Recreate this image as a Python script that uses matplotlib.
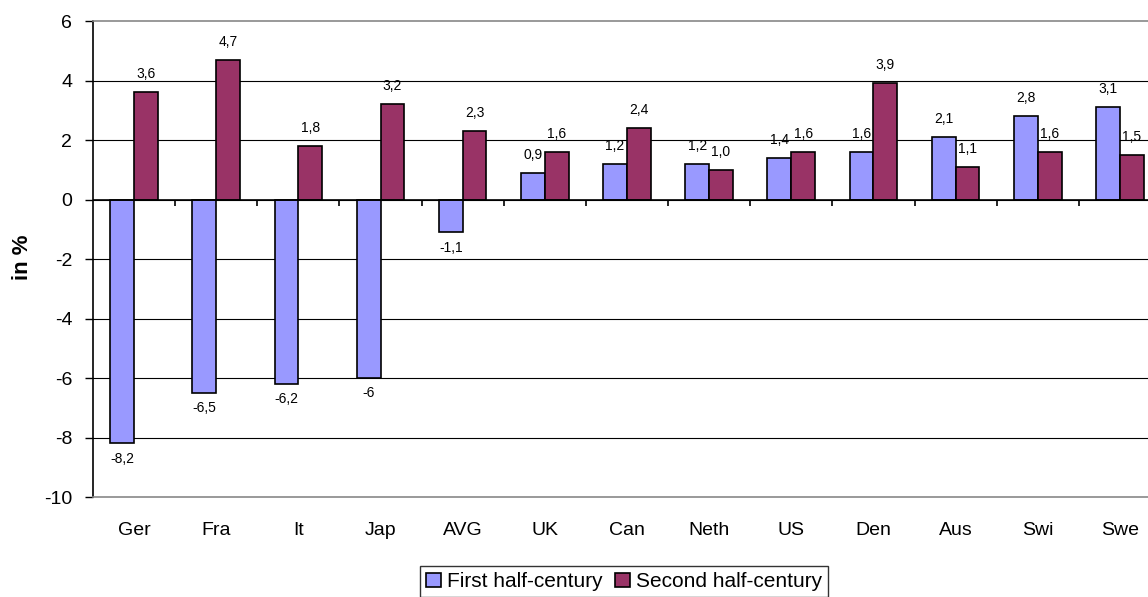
import numpy as np
import matplotlib.pyplot as plt

plt.rcParams['font.family'] = ['Liberation Sans', 'DejaVu Sans']
plt.rcParams['axes.unicode_minus'] = False

countries = ['Ger', 'Fra', 'It', 'Jap', 'AVG', 'UK', 'Can', 'Neth', 'US', 'Den', 'Aus', 'Swi', 'Swe']
first_half = [-8.2, -6.5, -6.2, -6.0, -1.1, 0.9, 1.2, 1.2, 1.4, 1.6, 2.1, 2.8, 3.1]
second_half = [3.6, 4.7, 1.8, 3.2, 2.3, 1.6, 2.4, 1.0, 1.6, 3.9, 1.1, 1.6, 1.5]
first_labels = ['-8,2', '-6,5', '-6,2', '-6', '-1,1', '0,9', '1,2', '1,2', '1,4', '1,6', '2,1', '2,8', '3,1']
second_labels = ['3,6', '4,7', '1,8', '3,2', '2,3', '1,6', '2,4', '1,0', '1,6', '3,9', '1,1', '1,6', '1,5']

fig = plt.figure(figsize=(11.48, 5.97), dpi=100)
# the plot area runs a little past the right edge of the figure
ax = fig.add_axes([0.081, 0.1675, 0.9303, 0.7973])

x = np.arange(len(countries))
w = 0.29
b1 = ax.bar(x - w / 2, first_half, w, color='#9999FF', edgecolor='black', linewidth=1.2,
            label='First half-century', zorder=3)
b2 = ax.bar(x + w / 2, second_half, w, color='#993366', edgecolor='black', linewidth=1.2,
            label='Second half-century', zorder=3)

# value labels
for rects, labels in [(b1, first_labels), (b2, second_labels)]:
    for r, lab in zip(rects, labels):
        h = r.get_height()
        cx = r.get_x() + r.get_width() / 2
        if h >= 0:
            ax.annotate(lab, (cx, h), xytext=(0, 8), textcoords='offset points',
                        ha='center', va='bottom', fontsize=10)
        else:
            ax.annotate(lab, (cx, h), xytext=(0, -6), textcoords='offset points',
                        ha='center', va='top', fontsize=10)

ax.set_xlim(-0.5, len(countries) - 0.5)
ax.set_ylim(-10, 6)
ax.set_yticks(np.arange(-10, 7, 2))
ax.tick_params(axis='y', direction='out', length=6, width=1, pad=9, labelsize=14)
ax.set_xticks(x)
ax.set_xticklabels(countries)
ax.tick_params(axis='x', length=0, pad=18, labelsize=14)

for yv in range(-8, 6, 2):
    ax.axhline(yv, color='black', linewidth=0.8, zorder=1)

# category axis at zero with tick marks between groups
ax.axhline(0, color='black', linewidth=1.2, zorder=4)
ax.vlines(np.arange(0.5, len(countries) - 0.5, 1), -0.22, 0, color='black', linewidth=1.2, zorder=4)

for s in ['top', 'bottom', 'right']:
    ax.spines[s].set_color('#888888')
    ax.spines[s].set_linewidth(1.2)
ax.spines['left'].set_linewidth(1.2)

fig.text(22 / 1148, 1 - 257 / 597, 'in %', rotation=90, fontsize=16, fontweight='bold',
         ha='center', va='center')

leg = fig.legend(handles=[b1, b2], loc='upper center', bbox_to_anchor=(0.5436, 0.052),
                 ncol=2, fontsize=15, frameon=True, fancybox=False, edgecolor='black',
                 handlelength=0.7, handleheight=0.7, handletextpad=0.3, columnspacing=0.6,
                 borderpad=0.3, borderaxespad=0)
leg.get_frame().set_linewidth(1.0)

fig.savefig('out.png', dpi=100)
